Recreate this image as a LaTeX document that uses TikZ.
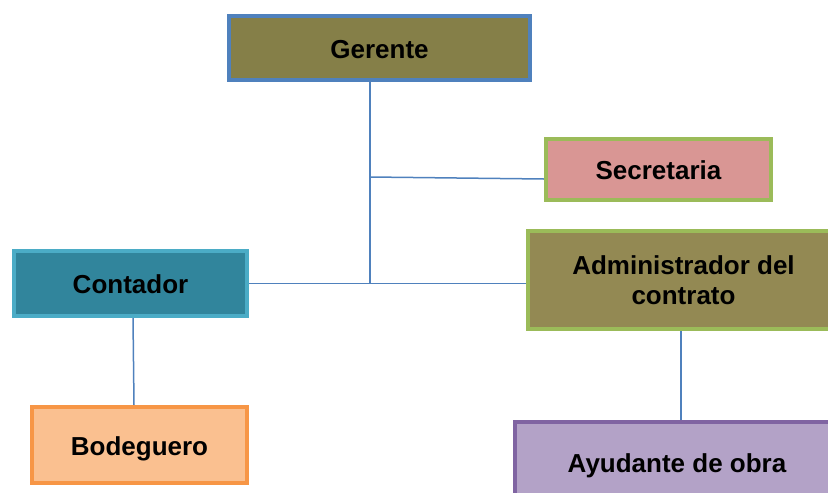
\documentclass[tikz,border=0pt]{standalone}
\usepackage{fontspec}
\setmainfont{Liberation Sans}
\usepackage{tikz}
\usetikzlibrary{positioning,calc,backgrounds}
\definecolor{orgLine}{HTML}{4F81BD}
\definecolor{orgOlive}{HTML}{857F48}
\definecolor{orgTan}{HTML}{938953}
\definecolor{orgGreen}{HTML}{9BBB59}
\definecolor{orgRose}{HTML}{D99694}
\definecolor{orgAqua}{HTML}{4BACC6}
\definecolor{orgTeal}{HTML}{31859C}
\definecolor{orgOrange}{HTML}{F79646}
\definecolor{orgPeach}{HTML}{FAC090}
\definecolor{orgPurple}{HTML}{8064A2}
\definecolor{orgLilac}{HTML}{B3A2C7}
\tikzset{
  post/.style     ={draw,line width=4pt,inner sep=0pt,align=center,
                    font=\fontsize{26}{30}\selectfont\bfseries},
  onepost/.style  ={post,text height=20pt,text depth=0pt},
  link/.style     ={orgLine,line width=1.5pt},
}

\begin{document}
\begin{tikzpicture}[x=1pt,y=-1pt]
\useasboundingbox (0,0) rectangle (828,493);
\clip (0,0) rectangle (828,493);
\node[onepost,draw=orgLine,fill=orgOlive,minimum width=301,minimum height=64] (ger) at (379.5,48) {Gerente};
\node[onepost,draw=orgGreen,fill=orgRose,minimum width=225,minimum height=61] (sec) at (658.5,169.5) {Secretaria};
\node[onepost,draw=orgAqua,fill=orgTeal,minimum width=233,minimum height=65] (cont) at (130.5,283.5) {Contador};
\node[post,draw=orgGreen,fill=orgTan,minimum width=311,minimum height=98] (adm) at (683.5,280) {Administrador del\\contrato};
\node[onepost,draw=orgOrange,fill=orgPeach,minimum width=215,minimum height=76] (bod) at (139.5,445) {Bodeguero};
\node[onepost,draw=orgPurple,fill=orgLilac,minimum width=324,minimum height=80] (ayu) at (677,462) {Ayudante de obra};

\coordinate (hub) at (370,284);
\coordinate (tap) at (370,177);
\begin{scope}[on background layer]
\draw[link] (ger.south -| hub) -- (hub);
\draw[link] (tap) -- ([yshift=-9.5pt]sec.west);
\draw[link] (cont.east) -- (cont.east -| adm.west);
\draw[link] ([xshift=2.5pt]cont.south) -- ([xshift=-5.5pt]bod.north);
\draw[link] ([xshift=-2.5pt]adm.south) -- ([xshift=-2.5pt]adm.south |- ayu.north);
\end{scope}
\end{tikzpicture}
\end{document}
